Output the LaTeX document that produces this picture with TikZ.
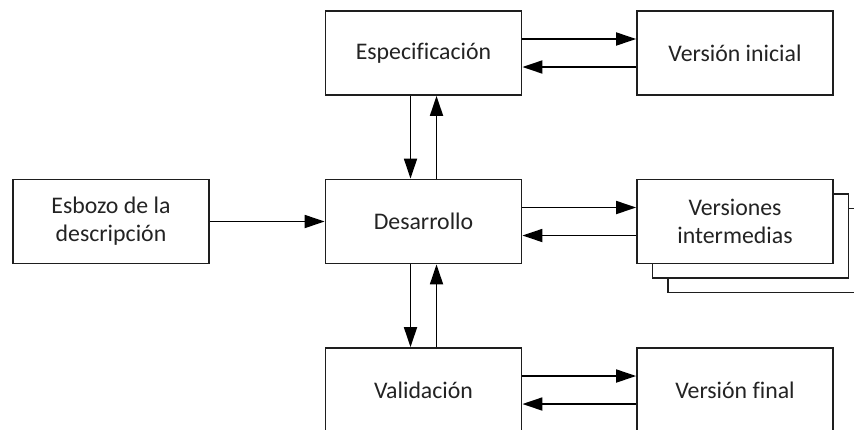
\documentclass[tikz,border=0pt]{standalone}
\usepackage{fontspec}
\setmainfont[Ligatures=NoCommon]{Carlito}
\usetikzlibrary{arrows.meta}
\definecolor{box_edge}{RGB}{30,30,30}
\definecolor{box_text}{RGB}{35,35,35}
\begin{document}
\begin{tikzpicture}[->,line width=0.9pt,>={Triangle[length=10pt,width=6.5pt]},x=0.5pt,y=-0.5pt]
    \tikzstyle{block}=[draw=box_edge, fill=white, rectangle, minimum width=98pt, minimum height=42pt,
      inner sep=0pt, align=center, text=box_text, font=\fontsize{11.9}{14}\selectfont]
    \tikzstyle{back}=[style=block, minimum width=98pt]
    \useasboundingbox (0,0) rectangle (854,429);

    \node[block] (espec)      at (423.5, 53)  {Especificación};
    \node[block] (vinicial)   at (735,   53)  {Versión inicial};
    \node[block] (esbozo)     at (111, 221.5) {Esbozo de la\\descripción};
    \node[block] (desarrollo) at (423.5,221.5) {Desarrollo};
    \node[back]  (vinter3)    at (766, 250.5) {};
    \node[back]  (vinter2)    at (750.5,236)  {};
    \node[block] (vinter)     at (735, 221.5) {Versiones\\intermedias};
    \node[block] (valid)      at (423.5,390)  {Validación};
    \node[block] (vfinal)     at (735,  390)  {Versión final};

    \path
     ([yshift=7pt]espec.east) edge ([yshift=7pt]vinicial.west)
     ([yshift=-7pt]vinicial.west) edge ([yshift=-7pt]espec.east)
     ([xshift=-6.5pt]espec.south) edge ([xshift=-6.5pt]desarrollo.north)
     ([xshift=6.5pt]desarrollo.north) edge ([xshift=6.5pt]espec.south)
     (esbozo.east) edge (desarrollo.west)
     ([yshift=7pt]desarrollo.east) edge ([yshift=7pt]vinter.west)
     ([yshift=-7pt]vinter.west) edge ([yshift=-7pt]desarrollo.east)
     ([xshift=-6.5pt]desarrollo.south) edge ([xshift=-6.5pt]valid.north)
     ([xshift=6.5pt]valid.north) edge ([xshift=6.5pt]desarrollo.south)
     ([yshift=7pt]valid.east) edge ([yshift=7pt]vfinal.west)
     ([yshift=-7pt]vfinal.west) edge ([yshift=-7pt]valid.east);
  \end{tikzpicture}
\end{document}
